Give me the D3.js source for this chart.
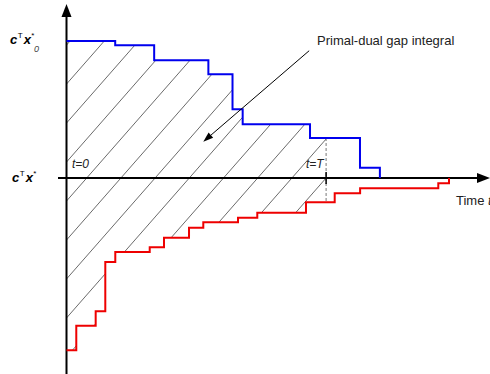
<!DOCTYPE html>
<html>
<head>
<meta charset="utf-8">
<script src="https://cdn.jsdelivr.net/npm/d3@7"></script>
<style>
  html, body { margin: 0; padding: 0; background: #fff; }
  svg { display: block; font-family: "Liberation Sans", Arial, sans-serif; }
</style>
</head>
<body>
<svg id="chart" width="490" height="374"></svg>
<script>
// ---- data (time units, objective value relative to c^T x*) ----
const primalTimes  = [0, 11.5, 20.7, 33.5, 39.2, 41.6, 57.5, 69.3, 74.0];
const primalValues = [100, 96.9, 85.9, 75.7, 50.1, 39.2, 29.2, 7.5, 0];
const dualTimes    = [0, 2.31, 6.89, 9.16, 11.52, 19.65, 23.02, 28.93, 32.30, 40.50, 45.05, 56.55, 63.33, 69.33, 87.79, 90.32];
const dualValues   = [-125.8, -107.8, -97.3, -61.3, -54.0, -50.6, -43.6, -36.3, -32.3, -29.0, -25.3, -17.7, -11.2, -7.5, -3.9, 0];
const timeT = 61.3;
const labels = { t0: "t=0", tT: "t=T", annotation: "Primal-dual gap integral", xAxis: "Time " , xAxisVar: "t" };

const svg = d3.select("#chart");
const W = 490, H = 374;

const x = d3.scaleLinear().domain([0, 100]).range([66.5, 490]);
const y = d3.scaleLinear().domain([0, 100]).range([178, 41]);

const primal = primalTimes.map((t, i) => [t, primalValues[i]]);
const dual = dualTimes.map((t, i) => [t, dualValues[i]]);

function stepAt(times, values, t) {
  let idx = 0;
  for (let i = 0; i < times.length; i++) if (times[i] <= t) idx = i;
  return values[idx];
}

// ---- hatched gap region ----
const bp = Array.from(new Set(primalTimes.concat(dualTimes).filter(t => t < timeT))).sort((a, b) => a - b);
bp.push(timeT);
const gap = bp.map(t => ({ t, hi: stepAt(primalTimes, primalValues, t), lo: stepAt(dualTimes, dualValues, t) }));
// last point carries previous values to close the step at T
gap[gap.length - 1].hi = gap[gap.length - 2].hi;
gap[gap.length - 1].lo = gap[gap.length - 2].lo;

const area = d3.area()
  .x(d => x(d.t))
  .y0(d => y(d.lo))
  .y1(d => y(d.hi))
  .curve(d3.curveStepAfter);

svg.append("defs").append("clipPath").attr("id", "gapClip")
  .append("path").attr("d", area(gap));

const hatchSpacing = 34.2, hatchSlope = 1.14, hatchStart = 86.7;
const hatchG = svg.append("g").attr("clip-path", "url(#gapClip)");
d3.range(-12, 14).forEach(k => {
  const x0 = hatchStart + hatchSpacing * k;
  const yAx = y(0);
  hatchG.append("line")
    .attr("x1", x0 + (yAx - 0) / hatchSlope).attr("y1", 0)
    .attr("x2", x0 + (yAx - H) / hatchSlope).attr("y2", H)
    .attr("stroke", "#444").attr("stroke-width", 0.8);
});

// ---- dashed line at t=T ----
svg.append("line")
  .attr("x1", x(timeT)).attr("x2", x(timeT))
  .attr("y1", y(stepAt(primalTimes, primalValues, timeT)))
  .attr("y2", y(stepAt(dualTimes, dualValues, timeT)))
  .attr("stroke", "#777").attr("stroke-width", 1).attr("stroke-dasharray", "3,2");

// ---- axes ----
const ax = svg.append("g");
ax.append("line").attr("x1", x(0)).attr("x2", x(0)).attr("y1", H).attr("y2", 14)
  .attr("stroke", "#000").attr("stroke-width", 2);
ax.append("path").attr("d", `M${x(0)},4 L${x(0) - 5},17 L${x(0) + 5},17 Z`).attr("fill", "#000");
ax.append("line").attr("x1", 58).attr("x2", 480).attr("y1", y(0)).attr("y2", y(0))
  .attr("stroke", "#000").attr("stroke-width", 2);
ax.append("path").attr("d", `M490,${y(0)} L477,${y(0) - 5} L477,${y(0) + 5} Z`).attr("fill", "#000");
// tick at T
ax.append("line").attr("x1", x(timeT)).attr("x2", x(timeT)).attr("y1", y(0) - 6).attr("y2", y(0) + 6)
  .attr("stroke", "#000").attr("stroke-width", 1.5);

// ---- step curves ----
const stepLine = d3.line().x(d => x(d[0])).y(d => y(d[1])).curve(d3.curveStepAfter);
svg.append("path").attr("d", stepLine(primal)).attr("fill", "none")
  .attr("stroke", "#0000ee").attr("stroke-width", 2);
svg.append("path").attr("d", stepLine(dual)).attr("fill", "none")
  .attr("stroke", "#ee0000").attr("stroke-width", 2);

// ---- labels ----
svg.append("text").attr("x", 72).attr("y", 168).attr("font-size", 12)
  .attr("font-style", "italic").attr("fill", "#222").text(labels.t0);
svg.append("text").attr("x", x(timeT) - 2.5).attr("y", 168).attr("font-size", 12)
  .attr("text-anchor", "end").attr("font-style", "italic").attr("fill", "#222").text(labels.tT);

const xl = svg.append("text").attr("x", 456).attr("y", 204.5).attr("font-size", 13).attr("fill", "#222");
xl.append("tspan").text(labels.xAxis);
xl.append("tspan").attr("font-style", "italic").text(labels.xAxisVar);

function cLabel(px, py, sub) {
  const t = svg.append("text").attr("x", px).attr("y", py).attr("font-size", 13).attr("fill", "#000");
  t.append("tspan").attr("font-weight", "bold").attr("font-style", "italic").text("c");
  t.append("tspan").attr("font-size", 8).attr("dy", -6).attr("dx", 0.5).text("T");
  t.append("tspan").attr("font-weight", "bold").attr("font-style", "italic").attr("dy", 6).attr("dx", 1).text("x");
  t.append("tspan").attr("font-size", 8).attr("dy", -6).attr("dx", 0.5).text("*");
  if (sub) {
    t.append("tspan").attr("font-size", 9).attr("font-style", "italic").attr("fill", "#444")
      .attr("dy", 13.5).attr("dx", -0.5).text(sub);
  }
}
cLabel(10, 44, "0");
cLabel(12, 182, null);

// ---- annotation arrow ----
const arrowFrom = [57.3, 92.9], arrowTo = [32.3, 26.5];
const x1 = x(arrowFrom[0]), y1 = y(arrowFrom[1]), x2 = x(arrowTo[0]), y2 = y(arrowTo[1]);
const ang = Math.atan2(y2 - y1, x2 - x1);
const hl = 10, hw = 3.5;
const bx = x2 - hl * Math.cos(ang), by = y2 - hl * Math.sin(ang);
svg.append("line").attr("x1", x1).attr("y1", y1).attr("x2", bx).attr("y2", by)
  .attr("stroke", "#000").attr("stroke-width", 1);
svg.append("path")
  .attr("d", `M${x2},${y2} L${bx + hw * Math.sin(ang)},${by - hw * Math.cos(ang)} L${bx - hw * Math.sin(ang)},${by + hw * Math.cos(ang)} Z`)
  .attr("fill", "#000");
svg.append("text").attr("x", 317).attr("y", 45).attr("font-size", 13).attr("fill", "#222")
  .text(labels.annotation);
</script>
</body>
</html>
